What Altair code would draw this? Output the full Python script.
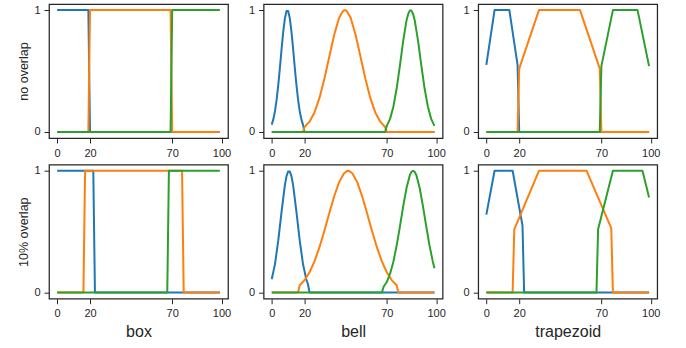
import altair as alt
import pandas as pd

# ---------------- data ----------------
SERIES = ["low", "mid", "high"]
COLORS = ["#1f77b4", "#ff7f0e", "#2ca02c"]
ROW_TITLES = ["no overlap", "10% overlap"]
COL_TITLES = ["box", "bell", "trapezoid"]
X_TICKS = [0, 20, 70, 100]
Y_TICKS = [0, 1]

# box, no overlap
box0_low_x = [0, 19, 20, 99]
box0_low_y = [1, 1, 0, 0]
box0_mid_x = [0, 19, 20, 69, 70, 99]
box0_mid_y = [0, 0, 1, 1, 0, 0]
box0_high_x = [0, 69, 70, 99]
box0_high_y = [0, 0, 1, 1]

# box, 10% overlap
box1_low_x = [0, 22, 23, 99]
box1_low_y = [1, 1, 0, 0]
box1_mid_x = [0, 16, 17, 76, 77, 99]
box1_mid_y = [0, 0, 1, 1, 0, 0]
box1_high_x = [0, 67, 68, 99]
box1_high_y = [0, 0, 1, 1]

# bell, no overlap
bell0_low_x = [0, 1, 2, 3, 4, 5, 6, 7, 8, 9, 10, 11, 12, 13, 14, 15, 16, 17, 18, 19, 20, 99]
bell0_low_y = [0.060, 0.105, 0.172, 0.267, 0.389, 0.531, 0.682, 0.823, 0.932, 0.992,
               0.992, 0.932, 0.823, 0.682, 0.531, 0.389, 0.267, 0.172, 0.105, 0.060, 0, 0]
bell0_mid_x = [0, 19, 20, 23, 26, 29, 32, 35, 38, 41, 43, 44, 45, 46, 48, 51, 54, 57, 60, 63, 66, 69, 70, 99]
bell0_mid_y = [0, 0, 0.040, 0.084, 0.160, 0.277, 0.434, 0.617, 0.798, 0.937, 0.985, 0.999,
               0.999, 0.985, 0.937, 0.798, 0.617, 0.434, 0.277, 0.160, 0.084, 0.040, 0, 0]
bell0_high_x = [0, 69, 70, 72, 74, 76, 78, 80, 82, 83, 84, 85, 86, 87, 89, 91, 93, 95, 97, 99]
bell0_high_y = [0, 0, 0.050, 0.107, 0.207, 0.356, 0.547, 0.749, 0.915, 0.968, 0.996,
                0.996, 0.968, 0.915, 0.749, 0.547, 0.356, 0.207, 0.107, 0.050]

# bell, 10% overlap
bell1_low_x = [0, 2, 4, 6, 8, 9, 10, 11, 12, 13, 15, 17, 19, 21, 22, 23, 99]
bell1_low_y = [0.110, 0.236, 0.430, 0.667, 0.882, 0.956, 0.995, 0.995, 0.956, 0.882,
               0.667, 0.430, 0.236, 0.110, 0.071, 0, 0]
bell1_mid_x = [0, 16, 17, 20, 23, 26, 29, 32, 35, 38, 41, 44, 46, 47, 49, 52, 55, 58, 61, 64, 67, 70, 73, 76, 77, 99]
bell1_mid_y = [0, 0, 0.060, 0.103, 0.167, 0.257, 0.371, 0.506, 0.652, 0.791, 0.907, 0.980,
               0.999, 0.999, 0.980, 0.907, 0.791, 0.652, 0.506, 0.371, 0.257, 0.167, 0.103, 0.060, 0, 0]
bell1_high_x = [0, 67, 68, 70, 72, 74, 76, 78, 80, 82, 84, 85, 86, 87, 88, 90, 92, 94, 96, 98, 99]
bell1_high_y = [0, 0, 0.046, 0.087, 0.155, 0.254, 0.386, 0.544, 0.710, 0.859, 0.963, 0.991,
                1.0, 0.991, 0.963, 0.859, 0.710, 0.544, 0.386, 0.254, 0.200]

# trapezoid, no overlap
trap0_low_x = [0, 5, 14, 19, 20, 99]
trap0_low_y = [0.55, 1, 1, 0.55, 0, 0]
trap0_mid_x = [0, 19, 20, 32, 57, 69, 70, 99]
trap0_mid_y = [0, 0, 0.52, 1, 1, 0.52, 0, 0]
trap0_high_x = [0, 69, 70, 77, 92, 99]
trap0_high_y = [0, 0, 0.54, 1, 1, 0.54]

# trapezoid, 10% overlap
trap1_low_x = [0, 5, 16, 22, 23, 99]
trap1_low_y = [0.64, 1, 1, 0.55, 0, 0]
trap1_mid_x = [0, 16, 17, 32, 61, 76, 77, 99]
trap1_mid_y = [0, 0, 0.52, 1, 1, 0.53, 0, 0]
trap1_high_x = [0, 67, 68, 77, 95, 99]
trap1_high_y = [0, 0, 0.52, 1, 1, 0.78]

PANELS = [
    [  # row: no overlap
        [(box0_low_x, box0_low_y), (box0_mid_x, box0_mid_y), (box0_high_x, box0_high_y)],
        [(bell0_low_x, bell0_low_y), (bell0_mid_x, bell0_mid_y), (bell0_high_x, bell0_high_y)],
        [(trap0_low_x, trap0_low_y), (trap0_mid_x, trap0_mid_y), (trap0_high_x, trap0_high_y)],
    ],
    [  # row: 10% overlap
        [(box1_low_x, box1_low_y), (box1_mid_x, box1_mid_y), (box1_high_x, box1_high_y)],
        [(bell1_low_x, bell1_low_y), (bell1_mid_x, bell1_mid_y), (bell1_high_x, bell1_high_y)],
        [(trap1_low_x, trap1_low_y), (trap1_mid_x, trap1_mid_y), (trap1_high_x, trap1_high_y)],
    ],
]

# ---------------- chart ----------------
W, H = 179, 134
FONT = "Liberation Sans"
INK = "#262626"

xscale = alt.Scale(domain=[-4.95, 103.95], nice=False, zero=False)
yscale = alt.Scale(domain=[-0.05, 1.05], nice=False, zero=False)


def make_panel(r, c):
    xt = COL_TITLES[c] if r == 1 else None
    yt = ROW_TITLES[r] if c == 0 else None
    layers = []
    for s, (name, color) in enumerate(zip(SERIES, COLORS)):
        xs, ys = PANELS[r][c][s]
        df = pd.DataFrame({"x": xs, "y": ys})
        layers.append(
            alt.Chart(df)
            .mark_line(color=color, strokeWidth=2, strokeJoin="round")
            .encode(
                x=alt.X("x:Q", scale=xscale,
                        axis=alt.Axis(values=X_TICKS, title=xt, labelFlush=False, format="d")),
                y=alt.Y("y:Q", scale=yscale,
                        axis=alt.Axis(values=Y_TICKS, title=yt, format="d")),
            )
        )
    return alt.layer(*layers).properties(width=W, height=H)


panels = [make_panel(r, c) for r in range(2) for c in range(3)]

chart = (
    alt.concat(*panels, columns=3, spacing={"row": 26.7, "column": 35.6}, bounds="flush")
    .properties(padding={"left": 17, "top": 3, "right": 5, "bottom": 5}, background="white")
    .configure_view(stroke=INK, strokeWidth=1.25)
    .configure_axis(
        domain=False, grid=False,
        ticks=True, tickColor=INK, tickWidth=1, tickSize=5,
        labelFont=FONT, labelFontSize=11, labelColor=INK, labelPadding=4,
        titleFont=FONT, titleColor=INK, titleFontWeight="normal",
    )
    .configure_axisX(titleFontSize=16, titlePadding=5)
    .configure_axisY(titleFontSize=12.5, titlePadding=3)
)

chart.save("out.html", embed_options={"renderer": "svg", "actions": False})
